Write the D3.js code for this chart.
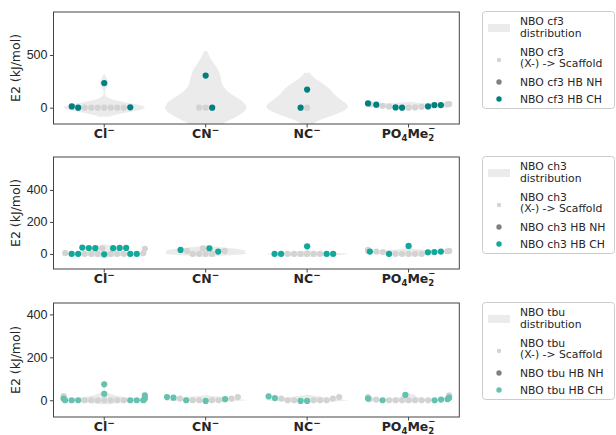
<!DOCTYPE html>
<html>
<head>
<meta charset="utf-8">
<script src="https://cdn.jsdelivr.net/npm/d3@7"></script>
<style>
  body { margin: 0; background: #fff; }
  svg { display: block; font-family: "DejaVu Sans", sans-serif; }
</style>
</head>
<body>
<div id="chart"></div>
<script>
// categories and tick labels
const anions = ["Cl", "CN", "NC", "PO4Me2"];
const anionLabels = [
  [["Cl", "n"], ["−", "sup"]],
  [["CN", "n"], ["−", "sup"]],
  [["NC", "n"], ["−", "sup"]],
  [["PO", "n"], ["4", "sub"], ["Me", "n"], ["2", "sub"], ["−", "supOver"]]
];
const panelNames = ["cf3", "ch3", "tbu"];
const yDomains = [[-155, 908], [-94, 606], [-78, 453]];
const yTicks = [[0, 500], [0, 200, 400], [0, 200, 400]];

// E2 values (kJ/mol), one list per anion
const cf3Scaffold = [[0, 0, 0, 0, 0, 0, 0], [0, 0], [0], [35, 32, 8, 2, 0, 10, 18, 35]];
const cf3HBNH = [[], [], [], []];
const cf3HBCH = [[0, 3, 12, 233], [0, 305], [0, 172], [0, 28, 25, 25, 40, 2, 12]];

const ch3Scaffold = [[32, 4, 0, 0, 0, 0, 0, 0, 35, 5], [35, 19, 0, 0, 0, 0, 19], [0, 0, 0, 0, 0, 0], [19, 17, 12, 0, 0, 0, 0, 0, 15, 19, 25]];
const ch3HBNH = [[], [], [], []];
const ch3HBCH = [[0, -2, 36, 38, 37, 40, 36, 38, 0, 0, 0], [15, 35, 25], [0, 48, 0, 0, 0], [0, 15, 12, 50, 15, 10]];

const tbuScaffold = [[3, 0, 0, 0, 0, 0, 0, 19, 8, 0], [15, 0, 0, 0, 0, 8, 8], [15, 0, 0, 0, 0, 0, 8, 8], [23, 3, 0, 0, 0, 0, 0, 0, 0, 15, 5]];
const tbuHBNH = [[], [], [], []];
const tbuHBCH = [[0, 0, 0, 0, 8, 10, 23, 30, 74, 0, 0], [0, -3, 5, 12, 15], [-3, -3, 10, 18], [0, 3, 8, 25, 12, 5, 0]];

const scaffoldData = [cf3Scaffold, ch3Scaffold, tbuScaffold];
const nhData = [cf3HBNH, ch3HBNH, tbuHBNH];
const chData = [cf3HBCH, ch3HBCH, tbuHBCH];

// styles
const violinColor = "#ebebeb";
const scaffoldColor = "#d3d3d3";
const nhColor = "#808080";
const chColors = ["#008080", "#12a89b", "#66c2b0"];
const ink = "#262626";

const width = 616, height = 435;
const axLeft = 53.5, axRight = 459.3;
const panelTops = [12, 157, 303];
const panelBottoms = [124, 269, 417];
const radius = 3.1;
const legendLeft = 482;

const svg = d3.select("#chart").append("svg")
  .attr("width", width)
  .attr("height", height)
  .attr("viewBox", `0 0 ${width} ${height}`);

svg.append("rect").attr("width", width).attr("height", height).attr("fill", "#fff");

// gaussian KDE, scott bandwidth, cut = 2
function kde(vals) {
  const n = vals.length;
  const bw = d3.deviation(vals) * Math.pow(n, -0.2);
  const lo = d3.min(vals) - 2 * bw, hi = d3.max(vals) + 2 * bw;
  const grid = d3.range(201).map(k => lo + (hi - lo) * k / 200);
  return grid.map(t => [t, d3.sum(vals, v => Math.exp(-0.5 * ((t - v) / bw) ** 2))]);
}

// beeswarm in pixel space (seaborn-like), points past the gutter get clamped
function swarm(points, cx, half) {
  const placed = [];
  const sep = 2 * radius;
  points.forEach(p => {
    const nb = placed.filter(q => Math.abs(q.py - p.py) < sep);
    const cands = [cx];
    let leftFirst = true;
    nb.forEach(q => {
      const dy = p.py - q.py;
      const dx = Math.sqrt(Math.max(sep * sep - dy * dy, 0)) * 1.05;
      const cl = q.px - dx, cr = q.px + dx;
      if (leftFirst) cands.push(cl, cr); else cands.push(cr, cl);
      leftFirst = !leftFirst;
    });
    const sorted = cands.map((c, k) => ({ c, k }))
      .sort((a, b) => (Math.abs(a.c - cx) - Math.abs(b.c - cx)) || (a.k - b.k));
    const ok = sorted.find(({ c }) =>
      nb.every(q => (c - q.px) ** 2 + (p.py - q.py) ** 2 >= sep * sep - 1e-6));
    p.px = ok ? ok.c : cx;
    placed.push(p);
  });
  placed.forEach(p => { p.px = Math.max(cx - half, Math.min(cx + half, p.px)); });
  return placed;
}

// bold tick label with sub/superscripts; "supOver" sits above the previous sub
function richLabel(g, parts, cx, baseline) {
  const t = g.append("text")
    .attr("font-weight", "bold")
    .attr("fill", ink);
  let cursor = 0, prevStart = 0;
  parts.forEach(([s, kind]) => {
    const off = { n: 0, sub: 2.8, sup: -5.2, supOver: -7.2 }[kind];
    const size = { n: 12.5, sub: 8.5, sup: 9, supOver: 8.5 }[kind];
    const start = kind === "supOver" ? prevStart : cursor;
    const sp = t.append("tspan").text(s)
      .attr("font-size", size)
      .attr("x", start)
      .attr("y", baseline + off);
    const len = sp.node().getComputedTextLength();
    if (kind === "supOver") {
      cursor = Math.max(cursor, start + len);
    } else {
      prevStart = cursor;
      cursor += len;
    }
  });
  t.attr("transform", `translate(${cx - cursor / 2},0)`);
}

function renderPanel(i) {
  const top = panelTops[i], bottom = panelBottoms[i];
  const x = d3.scaleBand().domain(anions).range([axLeft, axRight]);
  const y = d3.scaleLinear().domain(yDomains[i]).range([bottom, top]);
  const half = x.bandwidth() * 0.4;

  svg.append("clipPath").attr("id", "clip" + i)
    .append("rect")
    .attr("x", axLeft).attr("y", top)
    .attr("width", axRight - axLeft).attr("height", bottom - top);

  const plot = svg.append("g").attr("clip-path", `url(#clip${i})`);

  const groups = anions.map((a, j) => ({
    anion: a,
    points: [
      ...scaffoldData[i][j].map(v => ({ v, color: scaffoldColor })),
      ...nhData[i][j].map(v => ({ v, color: nhColor })),
      ...chData[i][j].map(v => ({ v, color: chColors[i] }))
    ]
  }));

  // violins
  groups.forEach(gr => {
    const vals = gr.points.map(p => p.v);
    const dens = kde(vals);
    const maxD = d3.max(dens, d => d[1]);
    const cx = x(gr.anion) + x.bandwidth() / 2;
    const area = d3.area()
      .y(d => y(d[0]))
      .x0(d => cx - half * d[1] / maxD)
      .x1(d => cx + half * d[1] / maxD);
    plot.append("path")
      .datum(dens)
      .attr("d", area)
      .attr("fill", violinColor);
  });

  // swarms
  const drawOrder = [scaffoldColor, nhColor, chColors[i]];
  const all = [];
  groups.forEach(gr => {
    const cx = x(gr.anion) + x.bandwidth() / 2;
    const pts = gr.points.map(p => ({ ...p, py: y(p.v) }))
      .sort((a, b) => a.v - b.v);
    all.push(...swarm(pts, cx, half));
  });
  drawOrder.forEach(col => {
    plot.selectAll(null)
      .data(all.filter(p => p.color === col))
      .enter()
      .append("circle")
      .attr("cx", d => d.px)
      .attr("cy", d => d.py)
      .attr("r", radius)
      .attr("fill", col);
  });

  // axes
  const yAxis = d3.axisLeft(y).tickValues(yTicks[i]).tickSize(3.5).tickPadding(2.5);
  const ya = svg.append("g").attr("transform", `translate(${axLeft},0)`).call(yAxis);
  ya.select(".domain").remove();
  ya.selectAll("line").attr("stroke", "#444");
  ya.selectAll("text").attr("fill", ink).style("font-size", "12.5px").style("font-family", "inherit");

  const xAxis = d3.axisBottom(x).tickSize(3.5).tickFormat("");
  const xa = svg.append("g").attr("transform", `translate(0,${bottom})`).call(xAxis);
  xa.select(".domain").remove();
  xa.selectAll("line").attr("stroke", "#444");

  anions.forEach((a, j) => {
    richLabel(svg, anionLabels[j], x(a) + x.bandwidth() / 2, bottom + 14);
  });

  svg.append("rect")
    .attr("x", axLeft).attr("y", top)
    .attr("width", axRight - axLeft).attr("height", bottom - top)
    .attr("fill", "none")
    .attr("stroke", "#444")
    .attr("stroke-width", 1);

  svg.append("text")
    .attr("transform", `translate(16,${(top + bottom) / 2}) rotate(-90)`)
    .attr("text-anchor", "middle")
    .attr("dy", "0.35em")
    .attr("fill", ink)
    .style("font-size", "12.5px")
    .text("E2 (kJ/mol)");

  renderLegend(i, top - 1);
}

function renderLegend(i, top) {
  const name = panelNames[i];
  const lg = svg.append("g").attr("transform", `translate(${legendLeft},${top})`);
  lg.append("rect")
    .attr("x", 0.5).attr("y", 0.5)
    .attr("width", 132).attr("height", 97)
    .attr("rx", 3)
    .attr("fill", "#fff")
    .attr("fill-opacity", 0.8)
    .attr("stroke", "#cccccc");

  lg.append("rect")
    .attr("x", 6).attr("y", 13)
    .attr("width", 22).attr("height", 8)
    .attr("fill", violinColor);

  const entries = [
    { lines: [`NBO ${name}`, "distribution"], base: 14 },
    { lines: [`NBO ${name}`, "(X-) -> Scaffold"], base: 44.5 },
    { lines: [`NBO ${name} HB NH`], base: 75 },
    { lines: [`NBO ${name} HB CH`], base: 92 }
  ];
  entries.forEach(e => {
    e.lines.forEach((l, k) => {
      lg.append("text")
        .attr("x", 38)
        .attr("y", e.base + k * 11.8)
        .attr("fill", ink)
        .style("font-size", "10.8px")
        .text(l);
    });
  });

  const marks = [
    { y: 49, r: 2.2, color: scaffoldColor },
    { y: 71, r: 2.7, color: nhColor },
    { y: 88, r: 2.7, color: chColors[i] }
  ];
  lg.selectAll(null)
    .data(marks)
    .enter()
    .append("circle")
    .attr("cx", 17)
    .attr("cy", d => d.y)
    .attr("r", d => d.r)
    .attr("fill", d => d.color);
}

panelNames.forEach((_, i) => renderPanel(i));
</script>
</body>
</html>
